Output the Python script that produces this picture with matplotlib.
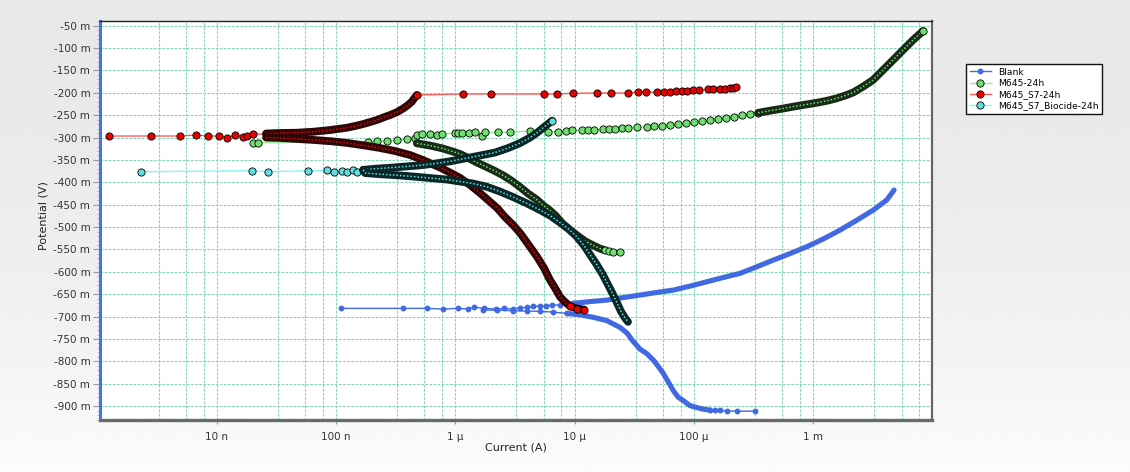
import numpy as np
import matplotlib
matplotlib.use("Agg")
import matplotlib.pyplot as plt
from matplotlib.ticker import FixedLocator, MultipleLocator, FuncFormatter, NullFormatter
from matplotlib.lines import Line2D

# Tafel scans: current in A, potential in mV
# Blank
blank_flat_i = [1.10e-7, 3.64e-7, 5.76e-7, 7.93e-7, 1.06e-6, 1.28e-6, 1.42e-6, 1.75e-6, 2.19e-6, 2.58e-6,
                3.03e-6, 3.49e-6, 3.97e-6, 4.51e-6, 5.13e-6, 5.73e-6, 6.43e-6, 7.54e-6, 8.59e-6, 9.75e-6]
blank_flat_e = [-681.6, -681.6, -681.6, -683.2, -681.6, -683.2, -678.7, -681.6, -683.2, -681.6,
                -683.2, -680.3, -679.4, -677.1, -676.5, -675.8, -674.2, -673.6, -672.7, -670.4]
blank_up_i = [9.75e-6, 1.35e-5, 1.86e-5, 2.55e-5, 3.53e-5, 4.81e-5, 6.72e-5, 9.28e-5, 1.28e-4, 1.75e-4, 2.43e-4,
              3.32e-4, 4.63e-4, 6.39e-4, 8.82e-4, 1.21e-3, 1.68e-3, 2.33e-3, 3.19e-3, 4.13e-3, 4.76e-3]
blank_up_e = [-670.4, -666.4, -663.1, -657.5, -651.9, -646.3, -640.7, -631.8, -622.2, -612.8, -603.4,
              -589.3, -573.7, -559.1, -543.9, -526.7, -506.6, -484.3, -461.9, -439.6, -417.2]
blank_low_i = [1.72e-6, 2.22e-6, 3.06e-6, 3.97e-6, 5.13e-6, 6.63e-6, 8.59e-6]
blank_low_e = [-685.4, -685.4, -687.0, -687.6, -688.3, -689.9, -692.8]
blank_down_i = [8.59e-6, 1.11e-5, 1.44e-5, 1.86e-5, 2.40e-5, 2.75e-5, 3.03e-5, 3.27e-5, 3.53e-5, 4.02e-5, 4.57e-5,
                5.00e-5, 5.54e-5, 6.07e-5, 6.72e-5, 7.36e-5, 8.15e-5, 9.28e-5, 1.06e-4, 1.19e-4, 1.36e-4]
blank_down_e = [-692.8, -695.9, -701.7, -708.9, -724.1, -736.8, -752.5, -762.5, -772.6, -782.6, -797.2,
                -810.6, -826.9, -845.2, -865.3, -879.9, -887.7, -898.9, -903.3, -906.7, -908.9]
blank_tail_i = [1.36e-4, 1.50e-4, 1.66e-4, 1.91e-4, 2.29e-4, 3.25e-4]
blank_tail_e = [-908.9, -908.9, -908.9, -911.2, -911.2, -911.2]

# M645-24h
green_flat_i = [2.03e-8, 2.23e-8, 1.87e-7, 2.19e-7, 2.66e-7, 3.23e-7, 3.91e-7, 4.59e-7, 4.75e-7, 5.23e-7,
                6.14e-7, 6.98e-7, 7.69e-7, 9.94e-7, 1.06e-6, 1.13e-6, 1.29e-6, 1.47e-6, 1.67e-6, 1.76e-6,
                2.26e-6, 2.87e-6, 4.23e-6, 6.02e-6, 7.19e-6, 8.39e-6, 9.51e-6, 1.16e-5, 1.30e-5, 1.46e-5,
                1.74e-5, 1.95e-5, 2.18e-5, 2.48e-5, 2.82e-5, 3.32e-5, 4.02e-5, 4.63e-5, 5.40e-5, 6.31e-5,
                7.36e-5, 8.59e-5, 1.00e-4, 1.17e-4, 1.36e-4, 1.59e-4, 1.86e-4, 2.17e-4, 2.53e-4, 2.95e-4, 3.45e-4]
green_flat_e = [-311.0, -311.0, -309.3, -307.7, -307.0, -305.5, -303.9, -301.7, -294.3, -292.0,
                -292.7, -294.3, -291.4, -289.8, -290.5, -289.1, -289.8, -288.2, -296.5, -288.2,
                -288.2, -288.2, -284.9, -286.9, -286.9, -285.3, -283.6, -283.8, -283.8, -283.8,
                -281.3, -281.3, -280.9, -279.3, -278.6, -277.1, -275.7, -274.8, -273.5, -271.9,
                -270.4, -268.1, -265.7, -263.7, -261.4, -259.2, -256.3, -253.4, -250.5, -247.4, -244.7]
green_up_i = [3.45e-4, 4.35e-4, 5.48e-4, 6.90e-4, 8.70e-4, 1.10e-3, 1.33e-3, 1.55e-3, 1.81e-3,
              2.16e-3, 2.61e-3, 3.17e-3, 3.85e-3, 4.67e-3, 5.66e-3, 6.86e-3, 8.33e-3]
green_up_e = [-244.7, -239.8, -235.5, -230.6, -226.1, -221.6, -217.2, -212.7, -207.1,
              -199.3, -186.3, -171.4, -149.0, -126.7, -104.3, -82.0, -61.8]
green_down_i = [4.75e-7, 6.14e-7, 7.89e-7, 9.62e-7, 1.10e-6, 1.33e-6, 1.55e-6, 1.83e-6, 2.15e-6, 2.53e-6,
                2.99e-6, 3.49e-6, 4.07e-6, 4.81e-6, 5.47e-6, 6.22e-6, 6.98e-6, 7.84e-6, 8.98e-6, 1.04e-5,
                1.22e-5, 1.44e-5, 1.63e-5, 1.80e-5]
green_down_e = [-312.8, -317.8, -324.5, -331.6, -336.8, -347.9, -356.9, -365.8, -374.7, -384.8,
                -397.1, -410.5, -425.0, -438.4, -451.9, -463.0, -475.3, -491.0, -504.4, -517.8,
                -531.2, -541.3, -548.0, -552.0]
green_end_i = [1.80e-5, 1.94e-5, 2.10e-5, 2.40e-5]
green_end_e = [-552.0, -553.5, -554.7, -555.1]

# M645_S7-24h
red_flat_i = [1.25e-9, 2.80e-9, 4.93e-9, 6.67e-9, 8.50e-9, 1.05e-8, 1.23e-8, 1.43e-8, 1.67e-8, 1.78e-8, 2.00e-8, 2.58e-8]
red_flat_e = [-296.5, -296.5, -296.5, -294.3, -296.5, -296.5, -300.3, -294.3, -298.1, -296.5, -292.0, -292.0]
red_up_i = [2.59e-8, 3.39e-8, 4.69e-8, 6.45e-8, 8.90e-8, 1.23e-7, 1.44e-7, 1.69e-7, 1.93e-7,
            2.19e-7, 2.48e-7, 2.84e-7, 3.25e-7, 3.67e-7, 4.01e-7, 4.31e-7, 4.51e-7, 4.75e-7]
red_up_e = [-290.9, -289.8, -289.1, -286.9, -283.1, -278.0, -274.2, -269.7, -265.2,
            -260.8, -255.2, -249.6, -242.9, -234.6, -227.2, -219.9, -212.7, -204.9]
red_top_i = [4.75e-7, 1.15e-6, 2.00e-6, 5.54e-6, 7.05e-6, 9.64e-6, 1.55e-5, 2.00e-5, 2.79e-5, 3.37e-5,
             3.97e-5, 4.88e-5, 5.62e-5, 6.31e-5, 7.04e-5, 7.90e-5, 8.75e-5, 9.83e-5, 1.10e-4, 1.31e-4,
             1.45e-4, 1.66e-4, 1.82e-4, 2.01e-4, 2.13e-4, 2.25e-4]
red_top_e = [-204.9, -202.6, -202.6, -202.6, -202.6, -201.1, -200.4, -200.4, -200.4, -198.2,
             -198.2, -198.2, -198.2, -197.1, -195.9, -195.3, -194.8, -194.2, -193.7, -192.1,
             -192.1, -192.1, -191.5, -189.9, -188.1, -186.3]
red_down_i = [2.59e-8, 3.53e-8, 4.80e-8, 6.67e-8, 9.26e-8, 1.26e-7, 1.75e-7, 2.34e-7, 3.12e-7, 4.17e-7,
              5.36e-7, 6.38e-7, 7.44e-7, 9.03e-7, 1.10e-6, 1.33e-6, 1.61e-6, 1.88e-6, 2.24e-6, 2.61e-6,
              3.05e-6, 3.49e-6, 4.07e-6, 4.84e-6, 5.54e-6, 6.22e-6, 6.85e-6, 7.54e-6, 8.31e-6, 9.15e-6,
              1.05e-5, 1.20e-5]
red_down_e = [-299.9, -301.0, -303.2, -305.5, -308.4, -312.2, -317.8, -323.3, -330.0, -339.0,
              -350.2, -359.1, -366.9, -378.1, -390.4, -406.0, -423.9, -439.6, -457.4, -477.6,
              -495.4, -513.3, -537.9, -566.3, -591.5, -618.4, -636.2, -655.7, -667.5, -676.5,
              -682.1, -684.3]
red_end_i = [9.15e-6, 1.05e-5, 1.20e-5]
red_end_e = [-676.5, -682.1, -684.3]

# M645_S7_Biocide-24h
cyan_flat_i = [2.31e-9, 1.99e-8, 2.71e-8, 5.86e-8, 8.41e-8, 9.62e-8, 1.12e-7, 1.24e-7, 1.38e-7, 1.49e-7, 1.69e-7]
cyan_flat_e = [-376.3, -374.1, -376.3, -374.1, -373.2, -376.3, -374.1, -377.7, -372.5, -377.7, -372.1]
cyan_up_i = [1.69e-7, 2.12e-7, 2.84e-7, 3.79e-7, 5.06e-7, 6.76e-7, 9.03e-7, 1.21e-6, 1.61e-6,
             2.15e-6, 2.77e-6, 3.49e-6, 4.23e-6, 4.93e-6, 5.54e-6, 6.04e-6, 6.47e-6]
cyan_up_e = [-372.1, -369.6, -367.4, -364.7, -362.0, -358.0, -353.1, -346.4, -340.1,
             -333.4, -323.3, -312.2, -299.9, -287.6, -276.4, -268.6, -262.3]
cyan_down_i = [1.69e-7, 1.75e-7, 2.34e-7, 3.23e-7, 4.45e-7, 6.14e-7, 8.47e-7, 1.10e-6, 1.41e-6, 1.83e-6,
               2.37e-6, 3.05e-6, 3.97e-6, 5.13e-6, 6.22e-6, 7.54e-6, 8.81e-6, 1.03e-5, 1.20e-5, 1.37e-5,
               1.54e-5, 1.73e-5, 1.91e-5, 2.10e-5, 2.27e-5, 2.45e-5, 2.65e-5, 2.80e-5]
cyan_down_e = [-372.1, -379.2, -381.9, -384.1, -387.0, -390.4, -393.7, -398.2, -402.7, -409.8,
               -420.6, -432.9, -446.9, -461.9, -474.2, -489.9, -503.3, -520.0, -541.3, -564.7,
               -584.8, -607.2, -629.5, -650.8, -669.8, -688.8, -703.3, -711.6]

labels = ['Blank', 'M645-24h', 'M645_S7-24h', 'M645_S7_Biocide-24h']
x_ticks = [1e-8, 1e-7, 1e-6, 1e-5, 1e-4, 1e-3]
x_tick_labels = ['10 n', '100 n', '1 µ', '10 µ', '100 µ', '1 m']
x_grid_steps = [3.25, 5.5, 7.75]

blue = '#4169e1'
green_face, green_line, green_band = '#6fe06f', '#98f098', '#172b17'
red_face, red_line, red_band = '#e60000', '#ff5a5a', '#2e0707'
cyan_face, cyan_line, cyan_band = '#60dede', '#88f6f6', '#0b2626'

fig = plt.figure(figsize=(11.3, 4.72), dpi=100)

# grey panel fading towards white at the bottom
bg = fig.add_axes([0, 0, 1, 1], zorder=-1)
t = np.linspace(0, 1, 256).reshape(-1, 1)
bg.imshow(0.912 + 0.075 * t ** 2, cmap='gray', vmin=0, vmax=1, aspect='auto',
          extent=[0, 1, 0, 1], origin='upper')
bg.axis('off')

ax = fig.add_axes([100 / 1130, 52 / 472, 832 / 1130, 399 / 472])
ax.set_facecolor('white')
ax.set_xscale('log')
ax.set_xlim(1.05e-9, 9.9e-3)
ax.set_ylim(-931, -39.5)


def sparse(i, e, line, face, z):
    ax.plot(i, e, color=line, lw=1.0, marker='o', ms=5.2, mfc=face, mec='black', mew=0.6, zorder=z)


def dense(i, e, band, face, z):
    ax.plot(i, e, color=band, lw=5.6, solid_capstyle='round', solid_joinstyle='round', zorder=z)
    ax.plot(i, e, color=face, lw=1.1, ls=(0, (1, 1.3)), zorder=z)


# Blank
ax.plot(blank_flat_i, blank_flat_e, color=blue, lw=1, marker='o', ms=3.2, mec=blue, zorder=2)
ax.plot(blank_low_i, blank_low_e, color=blue, lw=1, marker='o', ms=3.2, mec=blue, zorder=2)
ax.plot(blank_up_i, blank_up_e, color=blue, lw=3.7, solid_capstyle='round', solid_joinstyle='round', zorder=2)
ax.plot(blank_down_i, blank_down_e, color=blue, lw=3.7, solid_capstyle='round', solid_joinstyle='round', zorder=2)
ax.plot(blank_tail_i, blank_tail_e, color=blue, lw=1, marker='o', ms=3.2, mec=blue, zorder=2)

# M645-24h
sparse(green_flat_i, green_flat_e, green_line, green_face, 3)
dense(green_up_i, green_up_e, green_band, green_face, 3)
dense(green_down_i, green_down_e, green_band, green_face, 3)
sparse(green_end_i, green_end_e, green_line, green_face, 3)
ax.plot(green_up_i[-1:], green_up_e[-1:], 'o', ms=5.2, mfc=green_face, mec='black', mew=0.6, zorder=3)

# M645_S7-24h
sparse(red_flat_i, red_flat_e, red_line, red_face, 4)
dense(red_up_i, red_up_e, red_band, red_face, 4)
dense(red_down_i, red_down_e, red_band, red_face, 4)
sparse(red_top_i, red_top_e, red_line, red_face, 4)
sparse(red_end_i, red_end_e, red_line, red_face, 4)

# M645_S7_Biocide-24h
sparse(cyan_flat_i, cyan_flat_e, cyan_line, cyan_face, 5)
dense(cyan_up_i, cyan_up_e, cyan_band, cyan_face, 5)
dense(cyan_down_i, cyan_down_e, cyan_band, cyan_face, 5)
ax.plot(cyan_up_i[-1:], cyan_up_e[-1:], 'o', ms=5.2, mfc=cyan_face, mec='black', mew=0.6, zorder=5)

# axes, ticks, grid
ax.xaxis.set_major_locator(FixedLocator(x_ticks))
ax.set_xticklabels(x_tick_labels)
minor_x = [m * 10.0 ** k for k in range(-9, -2) for m in x_grid_steps]
ax.xaxis.set_minor_locator(FixedLocator(minor_x))
ax.xaxis.set_minor_formatter(NullFormatter())
ax.yaxis.set_major_locator(MultipleLocator(50))
ax.yaxis.set_minor_locator(MultipleLocator(10))
ax.yaxis.set_major_formatter(FuncFormatter(lambda v, p: f'{int(round(v))} m'))

ax.tick_params(axis='both', which='major', labelsize=7.5, labelcolor='#333333', color='#999999')
ax.tick_params(axis='y', which='major', length=5, pad=2)
ax.tick_params(axis='y', which='minor', length=2.5, color='#aaaaaa')
ax.tick_params(axis='x', which='major', length=3, pad=6)
ax.tick_params(axis='x', which='minor', length=0)

grid_kw = dict(color='#86d9b6', lw=0.8, ls=(0, (2.5, 1.2)))
ax.grid(True, which='major', axis='both', **grid_kw)
ax.grid(True, which='minor', axis='x', **grid_kw)
ax.set_axisbelow(True)

ax.spines['left'].set_color('#4a74e6')
ax.spines['left'].set_linewidth(2.2)
ax.spines['bottom'].set_color('#6a6a6a')
ax.spines['bottom'].set_linewidth(2.4)
ax.spines['top'].set_color('#222222')
ax.spines['top'].set_linewidth(1.0)
ax.spines['right'].set_color('#666666')
ax.spines['right'].set_linewidth(1.6)

fig.text(516 / 1130, 1 - 447 / 472, 'Current (A)', ha='center', va='center', fontsize=8, color='#222222')
fig.text(44 / 1130, 1 - 216 / 472, 'Potential (V)', ha='center', va='center', rotation=90,
         fontsize=8, color='#222222')

handles = [
    Line2D([], [], color=blue, lw=1, marker='o', ms=3.2, mec=blue),
    Line2D([], [], color=green_line, lw=1, marker='o', ms=5.2, mfc=green_face, mec='black', mew=0.6),
    Line2D([], [], color=red_line, lw=1, marker='o', ms=5.2, mfc=red_face, mec='black', mew=0.6),
    Line2D([], [], color=cyan_line, lw=1, marker='o', ms=5.2, mfc=cyan_face, mec='black', mew=0.6),
]
leg = fig.legend(handles, labels, loc='upper left', bbox_to_anchor=(966 / 1130, 1 - 64 / 472),
                 fontsize=6.6, frameon=True, fancybox=False, edgecolor='#111111', framealpha=1,
                 borderpad=0.4, labelspacing=0.25, handlelength=2.3, handletextpad=0.8, borderaxespad=0)
leg.get_frame().set_linewidth(1.0)

fig.savefig('out.png', dpi=100)
